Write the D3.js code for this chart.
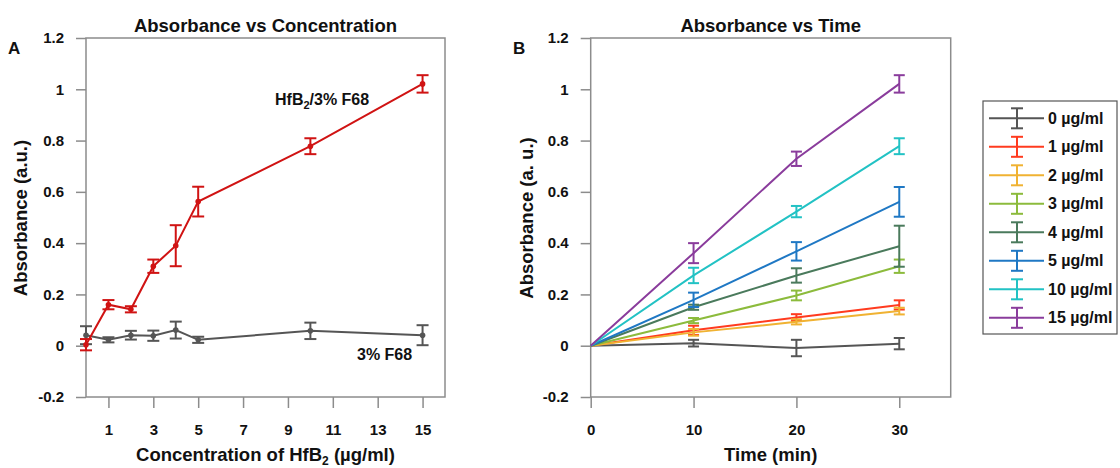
<!DOCTYPE html>
<html>
<head>
<meta charset="utf-8">
<script src="https://cdn.jsdelivr.net/npm/d3@7"></script>
<style>
  body { margin: 0; background: #fff; }
  text { font-family: Arial, "Liberation Sans", sans-serif; font-weight: bold; fill: #111; }
</style>
</head>
<body>
<svg id="chart" width="1120" height="468"></svg>
<script>
// ---- panel A: absorbance vs concentration ----
const concs = [0, 1, 2, 3, 4, 5, 10, 15];
const hfbMean = [0.004, 0.160, 0.142, 0.310, 0.390, 0.562, 0.778, 1.021];
const hfbErr  = [0.022, 0.018, 0.012, 0.026, 0.080, 0.058, 0.031, 0.034];
const f68Mean = [0.041, 0.023, 0.041, 0.039, 0.061, 0.023, 0.058, 0.041];
const f68Err  = [0.035, 0.010, 0.017, 0.020, 0.033, 0.012, 0.032, 0.039];
const concTicks = [1, 3, 5, 7, 9, 11, 13, 15];

// ---- panel B: absorbance vs time ----
const times = [0, 10, 20, 30];
const timeTicks = [0, 10, 20, 30];
const doseLabels = ["0 µg/ml", "1 µg/ml", "2 µg/ml", "3 µg/ml", "4 µg/ml", "5 µg/ml", "10 µg/ml", "15 µg/ml"];
const doseColors = ["#555555", "#ff3b1f", "#f0b232", "#8cbb3c", "#4a7a5c", "#1f78c4", "#22c2c4", "#8a3c9c"];
const doseMeans = [
  [0, 0.010, -0.009, 0.008],
  [0, 0.060, 0.110, 0.159],
  [0, 0.052, 0.093, 0.135],
  [0, 0.098, 0.196, 0.310],
  [0, 0.150, 0.274, 0.388],
  [0, 0.179, 0.368, 0.561],
  [0, 0.274, 0.523, 0.778],
  [0, 0.361, 0.729, 1.021]
];
const doseErrs = [
  [0, 0.013, 0.032, 0.022],
  [0, 0.018, 0.013, 0.018],
  [0, 0.013, 0.010, 0.013],
  [0, 0.010, 0.019, 0.026],
  [0, 0.010, 0.028, 0.080],
  [0, 0.028, 0.036, 0.058],
  [0, 0.030, 0.022, 0.031],
  [0, 0.039, 0.028, 0.034]
];
const yTicks = [-0.2, 0, 0.2, 0.4, 0.6, 0.8, 1, 1.2];

const axisColor = "#8c8c8c";
const svg = d3.select("#chart");

// shared y scale
const y = d3.scaleLinear().domain([-0.2, 1.2]).range([397, 38]);

// draws box, axes, title for a panel
function drawFrame(x, xTicks, title, xLabel, yLabel, letter, letterX, yLabelX) {
  const [x0, x1] = x.range();
  const g = svg.append("g");

  g.append("rect")
    .attr("x", x0).attr("y", 38)
    .attr("width", x1 - x0).attr("height", 397 - 38)
    .attr("fill", "none").attr("stroke", axisColor).attr("stroke-width", 1.5);

  const yAxis = g.append("g")
    .attr("transform", `translate(${x0},0)`)
    .call(d3.axisLeft(y).tickValues(yTicks).tickSize(10).tickPadding(12)
      .tickFormat(d => String(+d.toFixed(1))));
  const xAxis = g.append("g")
    .attr("transform", "translate(0,397)")
    .call(d3.axisBottom(x).tickValues(xTicks).tickSize(11).tickPadding(16));

  [yAxis, xAxis].forEach(a => {
    a.select(".domain").remove();
    a.selectAll("line").attr("stroke", axisColor).attr("stroke-width", 1.5);
    a.selectAll("text").style("font-size", "15px").attr("fill", "#111")
      .style("font-family", "Arial, 'Liberation Sans', sans-serif");
  });

  const cx = (x0 + x1) / 2;
  g.append("text").attr("x", cx).attr("y", 32).attr("text-anchor", "middle")
    .attr("font-size", 18.5).text(title);
  g.append("text").attr("x", letterX).attr("y", 54).attr("font-size", 17).text(letter);

  const xl = g.append("text").attr("x", cx).attr("y", 461).attr("text-anchor", "middle")
    .attr("font-size", 18.5);
  xLabel(xl);

  g.append("text")
    .attr("transform", `translate(${yLabelX},218) rotate(-90)`)
    .attr("text-anchor", "middle").attr("font-size", 18.5).text(yLabel);
}

function drawSeries(x, xs, means, errs, color, cap, dots) {
  const g = svg.append("g");
  const pts = xs.map((v, i) => ({ x: v, m: means[i], e: errs[i] }));
  g.append("path").datum(pts)
    .attr("fill", "none").attr("stroke", color).attr("stroke-width", 2)
    .attr("d", d3.line().x(d => x(d.x)).y(d => y(d.m)));
  const eb = g.selectAll(".eb").data(pts.filter(d => d.e > 0)).enter().append("g");
  eb.append("line")
    .attr("x1", d => x(d.x)).attr("x2", d => x(d.x))
    .attr("y1", d => y(d.m - d.e)).attr("y2", d => y(d.m + d.e));
  eb.append("line")
    .attr("x1", d => x(d.x) - cap).attr("x2", d => x(d.x) + cap)
    .attr("y1", d => y(d.m + d.e)).attr("y2", d => y(d.m + d.e));
  eb.append("line")
    .attr("x1", d => x(d.x) - cap).attr("x2", d => x(d.x) + cap)
    .attr("y1", d => y(d.m - d.e)).attr("y2", d => y(d.m - d.e));
  eb.selectAll("line").attr("stroke", color).attr("stroke-width", 2);
  if (dots) {
    g.selectAll("circle").data(pts).enter().append("circle")
      .attr("cx", d => x(d.x)).attr("cy", d => y(d.m)).attr("r", 2.8)
      .attr("fill", color);
  }
}

// ---- panel A ----
const xA = d3.scaleLinear().domain([0, 16]).range([86, 445]);
drawFrame(xA, concTicks, "Absorbance vs Concentration",
  t => {
    t.append("tspan").text("Concentration of HfB");
    t.append("tspan").attr("font-size", 12).attr("dy", 4).text("2");
    t.append("tspan").attr("dy", -4).text(" (µg/ml)");
  },
  "Absorbance (a.u.)", "A", 8, 27);

drawSeries(xA, concs, f68Mean, f68Err, "#555555", 6, true);
drawSeries(xA, concs, hfbMean, hfbErr, "#d01313", 6, true);

const lab1 = svg.append("text").attr("x", 275).attr("y", 105).attr("font-size", 16);
lab1.append("tspan").text("HfB");
lab1.append("tspan").attr("font-size", 11).attr("dy", 4).text("2");
lab1.append("tspan").attr("dy", -4).text("/3% F68");
svg.append("text").attr("x", 357).attr("y", 360).attr("font-size", 16).text("3% F68");

// ---- panel B ----
const xB = d3.scaleLinear().domain([0, 35]).range([590.7, 950.7]);
drawFrame(xB, timeTicks, "Absorbance vs Time",
  t => t.text("Time (min)"),
  "Absorbance (a. u.)", "B", 513, 533);

doseLabels.forEach((lab, i) => {
  drawSeries(xB, times, doseMeans[i], doseErrs[i], doseColors[i], 5.5, false);
});

// ---- legend ----
const leg = svg.append("g");
leg.append("rect").attr("x", 983).attr("y", 101).attr("width", 134).attr("height", 233)
  .attr("fill", "#fff").attr("stroke", "#555").attr("stroke-width", 1.2);
const rows = leg.selectAll(".row").data(doseLabels).enter().append("g")
  .attr("transform", (d, i) => `translate(0,${118.3 + i * 28.5})`);
rows.append("line").attr("x1", 989).attr("x2", 1044).attr("y1", 0).attr("y2", 0);
rows.append("line").attr("x1", 1017).attr("x2", 1017).attr("y1", -10).attr("y2", 10);
rows.append("line").attr("x1", 1011).attr("x2", 1023).attr("y1", -10).attr("y2", -10);
rows.append("line").attr("x1", 1011).attr("x2", 1023).attr("y1", 10).attr("y2", 10);
rows.each(function(d, i) {
  d3.select(this).selectAll("line").attr("stroke", doseColors[i]).attr("stroke-width", 2);
});
rows.append("text").attr("x", 1048).attr("y", 5.5).attr("font-size", 16).text(d => d);
</script>
</body>
</html>
